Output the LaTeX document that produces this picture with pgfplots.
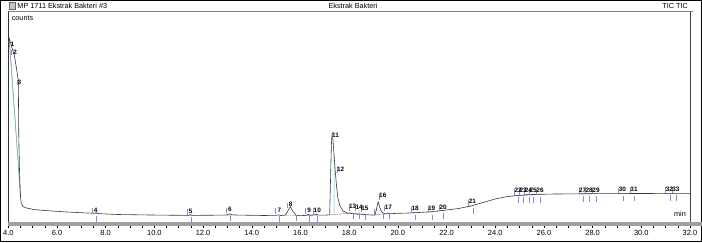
\documentclass[border=0pt]{standalone}
\usepackage{pgfplots}
\pgfplotsset{compat=1.18}
\usepackage{fontspec}
\setmainfont{Liberation Sans}
\definecolor{curve}{HTML}{3A3A3A}
\definecolor{pkblue}{HTML}{8888E0}
\definecolor{pkred}{HTML}{F07060}
\definecolor{pkcyan}{HTML}{40C8E0}
\definecolor{band}{HTML}{A0A0A0}
\begin{document}
\begin{tikzpicture}[x=1bp,y=1bp]
\useasboundingbox (0,0) rectangle (702,242);
\draw[black, line width=1.2bp] (0.6,0.6) rectangle (701.4,241.4);
% title bar
\fill[gray!45] (9.3,232.7) rectangle (15,239.3);
\draw[gray!80!black, line width=0.4bp] (9.3,232.7) rectangle (15,239.3);
\node[anchor=west, inner sep=0pt, font=\fontsize{7.3}{8}\selectfont] at (17.3,236) {MP 1711 Ekstrak Bakteri \#3};
\node[inner sep=0pt, font=\fontsize{7.3}{8}\selectfont] at (353,236) {Ekstrak Bakteri};
\node[anchor=east, inner sep=0pt, font=\fontsize{7.3}{8}\selectfont] at (688,236) {TIC TIC};
\draw[gray, line width=1.5bp] (8,230.3) -- (693,230.3);
% bottom band and borders
\fill[band] (8.3,16.5) rectangle (702,19.7);
\draw[black!80, line width=0.9bp] (8.3,19.7) -- (8.3,229.5);
\draw[black!75, line width=0.8bp] (690,19.7) -- (690,229.5);
\node[inner sep=0pt, font=\fontsize{7.3}{8}\selectfont] at (22.5,223.7) {counts};
\node[inner sep=0pt, font=\fontsize{7.3}{8}\selectfont] at (680,28.5) {min};
\begin{axis}[
  scale only axis, width=681.7bp, height=213.5bp,
  at={(8.3bp,16.5bp)}, anchor=south west,
  xmin=4, xmax=32, ymin=0, ymax=213.5,
  axis line style={draw=none},
  clip=false,
  xtick={4,6,...,32}, minor x tick num=3,
  ytick=\empty,
  xtick pos=lower, tick align=outside,
  major tick length=2.5bp, minor tick length=2.5bp,
  every tick/.style={black, line width=0.5bp},
  xticklabel style={font=\fontsize{7.5}{8}\selectfont, inner sep=0pt, anchor=north, yshift=-2bp,
    /pgf/number format/fixed, /pgf/number format/fixed zerofill, /pgf/number format/precision=1},
  /pgf/number format/assume math mode=true,
  unbounded coords=jump,
]
% red baselines
\addplot[pkred, line width=0.5bp] table {
4.04 183.8
4.51 28.8
nan nan
7.44 12.4
7.72 12.0
nan nan
11.35 10.3
11.6 10.2
nan nan
12.95 10.5
13.2 10.5
nan nan
15.30 10.4
15.85 10.2
nan nan
16.20 10.2
16.72 10.4
nan nan
17.18 10.5
18.00 12.3
18.65 11.2
nan nan
19.02 10.5
19.50 11.8
nan nan
20.50 12.6
20.80 12.9
nan nan
21.20 13.4
21.45 13.8
nan nan
21.60 14.4
21.90 15.2
nan nan
22.80 18.6
23.10 20.0
nan nan
24.75 29.5
25.85 31.0
nan nan
27.40 31.7
28.20 31.8
nan nan
29.05 31.9
29.75 32.0
nan nan
31.00 32.1
31.45 32.1
};
% cyan lines
\addplot[pkcyan, line width=0.5bp] table {
4.06 182
4.50 30
nan nan
17.38 10.8
17.38 70.5
};
% main chromatogram
\addplot[curve, line width=0.6bp] table {
4.00 181
4.04 187
4.08 184
4.15 178
4.25 170
4.33 158
4.41 145
4.42 120
4.43 90
4.46 55
4.49 32
4.53 22
4.60 19
4.70 17.8
5.04 16
5.50 15
6.41 13.5
7.00 12.8
7.50 12.2
7.60 12.8
7.70 12.0
7.78 11.8
8.50 11.0
9.83 10.5
11.00 10.2
11.40 10.2
11.47 10.8
11.55 10.2
11.89 10.2
12.90 10.4
13.00 10.8
13.07 11.8
13.15 11.0
13.30 10.5
13.53 10.4
14.50 10.0
15.00 10.2
15.10 10.6
15.20 10.0
15.38 10.5
15.47 14.0
15.58 18.8
15.68 14.5
15.83 10.2
16.00 9.8
16.25 10.2
16.32 11.2
16.40 10.2
16.60 10.8
16.65 11.5
16.72 10.4
17.00 10.4
17.16 10.6
17.20 12.0
17.24 50.5
17.27 80.5
17.29 89.8
17.33 87.2
17.38 70.5
17.43 53.8
17.49 37.2
17.54 27.2
17.61 20.5
17.75 14.5
17.95 12.2
18.05 12.5
18.10 12.0
18.36 11.2
18.40 11.6
18.60 11.0
18.91 10.5
19.06 10.5
19.10 14.0
19.19 23.8
19.26 18.0
19.33 13.8
19.46 11.5
19.55 12.2
19.70 11.8
19.98 12.2
20.36 12.4
20.70 12.8
21.30 13.6
21.62 14.5
22.00 15.5
22.50 17.0
23.00 19.5
23.50 23.0
24.00 26.5
24.40 28.5
24.80 29.8
25.30 30.8
25.80 31.2
26.50 31.5
28.00 31.8
30.00 32.0
32.00 32.2
};
% blue peak markers
\addplot[pkblue, only marks, mark=|, mark size=2.8bp, mark options={line width=0.6bp}] table {
4.03 181
4.14 173
4.36 143
7.44 14.5
7.61 6.5
11.34 13.5
11.51 5.5
12.95 15.2
13.12 7.2
14.98 14.5
15.15 6.5
15.45 20.2
15.83 7.5
16.21 14.5
16.38 6.5
16.54 14.5
16.71 6.5
17.17 13.0
17.31 90.5
17.50 55.5
17.99 17.8
18.16 9.8
18.26 17.2
18.43 9.2
18.50 16.2
18.67 8.2
19.05 13.5
19.23 28.8
19.40 9.0
19.46 17.2
19.63 9.2
20.56 16.2
20.73 8.2
21.24 16.2
21.41 8.2
21.71 17.5
21.88 9.5
22.91 22.8
23.08 14.8
24.79 33.8
24.96 25.8
25.00 33.8
25.17 25.8
25.21 33.8
25.38 25.8
25.41 33.8
25.58 25.8
25.69 33.8
25.86 25.8
27.44 34.5
27.61 26.5
27.71 34.5
27.88 26.5
27.99 34.5
28.16 26.5
29.07 35.0
29.24 27.0
29.55 35.0
29.72 27.0
31.00 35.5
31.17 27.5
31.27 35.5
31.44 27.5
};
% peak labels
\addplot[draw=none, mark=none, nodes near coords, point meta=explicit symbolic,
  every node near coord/.style={anchor=center, inner sep=0pt, black, font=\bfseries\fontsize{6.4}{7}\selectfont}]
  table[meta=lab] {
t y lab
4.17 181.5 1
4.28 173.5 2
4.46 143.5 3
7.59 15.5 4
11.49 14.5 5
13.10 16.2 6
15.13 15.5 7
15.60 21.2 8
16.36 15.5 9
16.69 15.5 10
17.44 90.0 11
17.65 56.5 12
18.14 18.8 13
18.41 18.2 14
18.65 17.2 15
19.38 29.8 16
19.61 18.2 17
20.71 17.2 18
21.39 17.2 19
21.86 18.5 20
23.06 23.8 21
24.94 34.8 22
25.15 34.8 23
25.36 34.8 24
25.56 34.8 25
25.84 34.8 26
27.59 35.5 27
27.86 35.5 28
28.14 35.5 29
29.22 36.0 30
29.70 36.0 31
31.15 36.5 32
31.42 36.5 33
};
\end{axis}
\end{tikzpicture}
\end{document}
